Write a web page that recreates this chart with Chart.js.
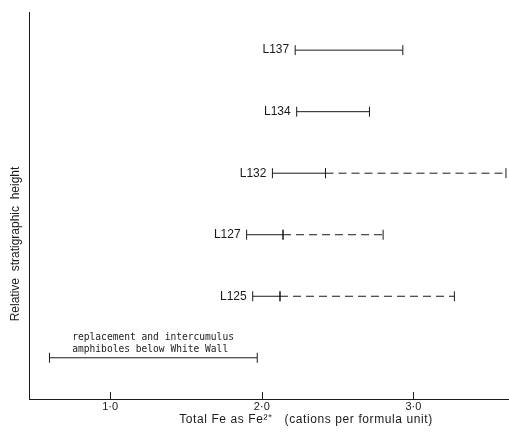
<!DOCTYPE html>
<html>
<head>
<meta charset="utf-8">
<script src="https://cdn.jsdelivr.net/npm/chart.js@4.4.1/dist/chart.umd.min.js"></script>
<style>
  html, body { margin: 0; padding: 0; background: #fff; }
  #wrap { width: 509px; height: 432px; }
</style>
</head>
<body>
<div id="wrap"><canvas id="grafico" width="509" height="432"></canvas></div>
<script>
// samples, top of the section first
const samples = ["L137", "L134", "L132", "L127", "L125"];
const rows = [6, 5, 4, 3, 2];
const solidFrom = [2.22, 2.23, 2.07, 1.90, 1.94];
const solidTo = [2.93, 2.71, 2.42, 2.14, 2.12];
const dashedTo = [null, null, 3.61, 2.80, 3.27];

// amphiboles below White Wall
const wwRange = [0.60, 1.97];
const wwRow = 1;
const wwNote = ["replacement and intercumulus", "amphiboles below White Wall"];

const xTicks = [1, 2, 3];

const INK = "#1a1a1a";
const SANS = '"Liberation Sans", Arial, sans-serif';
const MONO = '"DejaVu Sans Mono", "Liberation Mono", monospace';

/* =========================
   DATASETS
========================= */
function segment(tag, y, x0, x1, dash) {
  return {
    tag: tag,
    data: [{ x: x0, y: y }, { x: x1, y: y }],
    showLine: true,
    borderColor: INK,
    borderWidth: 1,
    borderDash: dash,
    pointStyle: "line",
    rotation: 90,
    pointRadius: 5,
    pointBorderWidth: 1,
    pointBorderColor: INK,
    pointBackgroundColor: INK
  };
}

const datasets = [];
samples.forEach((s, i) => {
  datasets.push(segment(s, rows[i], solidFrom[i], solidTo[i], []));
  if (dashedTo[i] != null) {
    datasets.push(segment(null, rows[i], solidTo[i], dashedTo[i], [8, 5]));
  }
});
datasets.push(segment("ww", wwRow, wwRange[0], wwRange[1], []));

/* =========================
   TEXTS + INNER TICKS
========================= */
const textos = {
  id: "textos",
  afterDatasetsDraw(chart) {
    const ctx = chart.ctx;
    const xs = chart.scales.x;
    const area = chart.chartArea;
    ctx.save();
    ctx.fillStyle = INK;
    ctx.strokeStyle = INK;
    ctx.lineWidth = 1;

    // sample labels
    ctx.font = "12px " + SANS;
    ctx.textAlign = "right";
    ctx.textBaseline = "middle";
    chart.data.datasets.forEach((ds, i) => {
      if (!ds.tag || ds.tag === "ww") return;
      const p = chart.getDatasetMeta(i).data[0];
      ctx.fillText(ds.tag, p.x - 6, p.y);
    });

    // note above the White Wall bar
    const wwIdx = chart.data.datasets.findIndex(d => d.tag === "ww");
    const wp = chart.getDatasetMeta(wwIdx).data[0];
    ctx.font = "9.6px " + MONO;
    ctx.textAlign = "left";
    const nx = xs.getPixelForValue(0.75);
    ctx.fillText(wwNote[0], nx, wp.y - 20);
    ctx.fillText(wwNote[1], nx, wp.y - 8);

    // tick marks pointing up
    ctx.beginPath();
    xTicks.forEach(v => {
      const x = Math.round(xs.getPixelForValue(v)) + 0.5;
      ctx.moveTo(x, area.bottom);
      ctx.lineTo(x, area.bottom - 7);
    });
    ctx.stroke();

    // axis titles
    ctx.font = "12px " + SANS;
    ctx.textAlign = "center";
    ctx.letterSpacing = "0.6px";
    ctx.fillText("Total Fe as Fe\u00B2\u207A   (cations per formula unit)", 306, 420);
    ctx.letterSpacing = "0px";

    ctx.translate(16, 244);
    ctx.rotate(-Math.PI / 2);
    ctx.fillText("Relative  stratigraphic  height", 0, 0);
    ctx.restore();
  }
};

/* =========================
   CHART
========================= */
new Chart(document.getElementById("grafico"), {
  type: "scatter",
  data: { datasets: datasets },
  plugins: [textos],
  options: {
    responsive: false,
    animation: false,
    layout: { autoPadding: false, padding: { top: 12, right: 0, left: 0, bottom: 0 } },
    plugins: { legend: { display: false }, tooltip: { enabled: false } },
    scales: {
      x: {
        type: "linear",
        min: 0.465,
        max: 3.63,
        grid: { display: false, drawTicks: false },
        border: { display: true, color: INK, width: 1 },
        ticks: {
          color: INK,
          font: { size: 11, family: SANS },
          padding: 1,
          callback: v => v.toFixed(1).replace(".", "\u00B7")
        },
        afterBuildTicks: s => { s.ticks = xTicks.map(v => ({ value: v })); },
        afterFit: s => { s.height = 33; }
      },
      y: {
        type: "linear",
        min: 0.33,
        max: 6.62,
        grid: { display: false, drawTicks: false },
        border: { display: true, color: INK, width: 1 },
        ticks: { display: false },
        afterFit: s => { s.width = 29; }
      }
    }
  }
});
</script>
</body>
</html>
